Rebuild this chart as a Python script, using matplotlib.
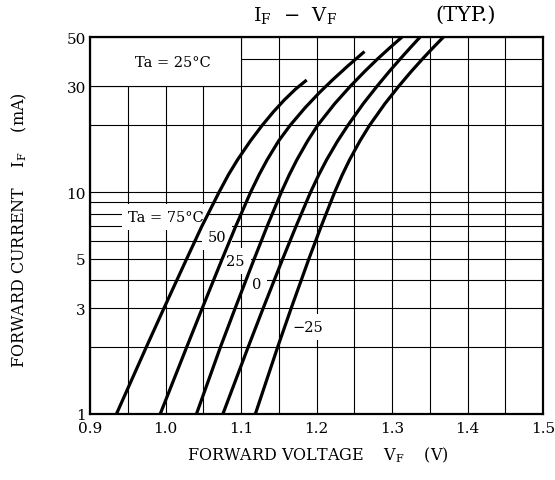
import numpy as np
import matplotlib
matplotlib.use("Agg")
import matplotlib.pyplot as plt
from matplotlib.patches import Rectangle

plt.rcParams['font.family'] = 'DejaVu Serif'
plt.rcParams['mathtext.fontset'] = 'dejavuserif'

# forward current (mA) and forward voltage (V)
i_75 = [1, 2, 3, 5, 7, 10, 12, 14, 17, 20, 23, 26, 29, 32]
v_75 = [0.935, 0.9745, 0.998, 1.028, 1.048, 1.071, 1.0835, 1.0955, 1.1124, 1.1281,
        1.1429, 1.1573, 1.1717, 1.187]

i_50 = [1, 2, 3, 5, 7, 10, 12, 14, 17, 20, 24, 28, 32, 37, 43]
v_50 = [0.993, 1.028, 1.0487, 1.0751, 1.0929, 1.1128, 1.1241, 1.1347, 1.1498, 1.1651,
        1.1849, 1.2035, 1.2211, 1.2414, 1.2636]

i_25 = [1, 2, 3, 5, 7, 10, 12, 14, 17, 20, 25, 30, 35, 40, 45, 50]
v_25 = [1.041, 1.0727, 1.0923, 1.1175, 1.1345, 1.1534, 1.1641, 1.1741, 1.1882, 1.2015,
        1.224, 1.2448, 1.2639, 1.2815, 1.298, 1.3133]

i_0 = [1, 2, 3, 5, 7, 10, 12, 14, 17, 20, 25, 30, 35, 40, 45, 50]
v_0 = [1.076, 1.1094, 1.1294, 1.1552, 1.1728, 1.1922, 1.2032, 1.2135, 1.228, 1.2416,
       1.2618, 1.2802, 1.2965, 1.3114, 1.3249, 1.3373]

i_m25 = [1, 2, 3, 5, 7, 10, 12, 14, 17, 20, 25, 30, 35, 40, 45, 50]
v_m25 = [1.119, 1.1485, 1.1665, 1.1899, 1.2061, 1.2241, 1.2343, 1.2439, 1.2575, 1.2703,
         1.2905, 1.3089, 1.3256, 1.3409, 1.3551, 1.3682]

x_ticks = [0.9, 1.0, 1.1, 1.2, 1.3, 1.4, 1.5]
x_grid = np.arange(0.9, 1.5001, 0.05)
y_ticks = [1, 3, 5, 10, 30, 50]
y_grid = [1, 2, 3, 4, 5, 6, 7, 8, 9, 10, 20, 30, 40, 50]

fig = plt.figure(figsize=(5.55, 4.81), dpi=100)
ax = fig.add_axes([90/555, 1 - 415/481, 453/555, 377/481])
ax.set_yscale('log')
ax.set_xlim(0.9, 1.5)
ax.set_ylim(1, 50)

for x in x_grid:
    ax.axvline(x, color='black', lw=0.8, zorder=0.5)
for y in y_grid:
    ax.axhline(y, color='black', lw=0.8, zorder=0.5)

# white box for the Ta = 25°C note
ax.add_patch(Rectangle((0.9, 30), 0.2, 20, facecolor='white', edgecolor='black',
                       lw=0.8, zorder=1))
ax.text(1.01, 38.5, 'Ta = 25°C', fontsize=10.5, ha='center', va='center', zorder=2)

curves = [(v_75, i_75), (v_50, i_50), (v_25, i_25), (v_0, i_0), (v_m25, i_m25)]
for v, i in curves:
    ax.plot(v, i, color='black', lw=2.3, zorder=4, solid_capstyle='butt',
            solid_joinstyle='round')

lbl_box = dict(boxstyle='square,pad=0.4', facecolor='white', edgecolor='none')
ax.text(1.0, 7.7, 'Ta = 75°C', fontsize=10.5, ha='center', va='center', bbox=lbl_box, zorder=3)
ax.text(1.068, 6.27, '50', fontsize=10.5, ha='center', va='center', bbox=lbl_box, zorder=3)
ax.text(1.093, 4.89, '25', fontsize=10.5, ha='center', va='center', bbox=lbl_box, zorder=3)
ax.text(1.121, 3.85, '0', fontsize=10.5, ha='center', va='center', bbox=lbl_box, zorder=3)
ax.text(1.189, 2.47, '−25', fontsize=10.5, ha='center', va='center', bbox=lbl_box, zorder=3)

ax.set_xticks(x_ticks)
ax.set_xticklabels([f'{x:.1f}' for x in x_ticks])
ax.set_yticks(y_ticks)
ax.set_yticklabels([str(y) for y in y_ticks])
ax.yaxis.set_minor_locator(plt.NullLocator())
ax.tick_params(axis='both', length=0, labelsize=11)
ax.tick_params(axis='x', pad=5)
ax.tick_params(axis='y', pad=3)
for s in ax.spines.values():
    s.set_linewidth(1.6)
    s.set_zorder(5)

fig.text(295/555, 1 - 15/481, r'$\mathregular{I_F}$  −  $\mathregular{V_F}$', fontsize=14,
         ha='center', va='center')
fig.text(466/555, 1 - 15/481, '(TYP.)', fontsize=15, ha='center', va='center')
fig.text(318/555, 1 - 455/481, r'FORWARD VOLTAGE    $\mathregular{V_F}$    (V)', fontsize=11.5,
         ha='center', va='center')
fig.text(19/555, 1 - 230/481, r'FORWARD CURRENT    $\mathregular{I_F}$    (mA)', fontsize=11.5,
         ha='center', va='center', rotation=90)

fig.savefig('out.png', dpi=100)
